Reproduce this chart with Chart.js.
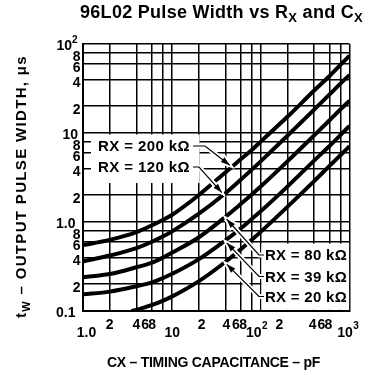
<!DOCTYPE html>
<html>
<head>
<meta charset="utf-8">
<script src="https://cdn.jsdelivr.net/npm/chart.js@4.4.0/dist/chart.umd.min.js"></script>
<style>
html, body { margin: 0; padding: 0; background: #fff; }
</style>
</head>
<body>
<canvas id="canvas" width="368" height="375"></canvas>
<script>
// values (CX in pF, tW in us)
const cx = [1, 2, 4, 6, 8, 10, 20, 40, 60, 80, 100, 200, 400, 600, 800, 1000];
const rx200 = [0.55, 0.63, 0.77, 0.92, 1.06, 1.2, 2.0, 3.6, 5.1, 6.5, 8.0, 15.2, 30, 44, 59, 74];
const rx120 = [0.36, 0.42, 0.51, 0.6, 0.69, 0.78, 1.23, 2.1, 3.0, 3.9, 4.8, 9.3, 18.3, 27.3, 36.3, 45];
const rx80 = [0.24, 0.26, 0.31, 0.35, 0.4, 0.45, 0.67, 1.14, 1.6, 2.05, 2.5, 4.8, 9.4, 14, 18.6, 23];
const rx39 = [0.154, 0.165, 0.19, 0.21, 0.235, 0.26, 0.38, 0.62, 0.85, 1.09, 1.32, 2.5, 4.9, 7.2, 9.6, 12];
const cx20 = [3.5, 4, 6, 8, 10, 20, 40, 60, 80, 100, 200, 400, 600, 800, 1000];
const rx20 = [0.1, 0.103, 0.117, 0.131, 0.145, 0.215, 0.355, 0.495, 0.635, 0.775, 1.48, 2.88, 4.3, 5.7, 7.1];

const seriesLabels = ['RX = 200 k\u03A9', 'RX = 120 k\u03A9', 'RX = 80 k\u03A9', 'RX = 39 k\u03A9', 'RX = 20 k\u03A9'];

const xGrid = [1, 2, 4, 6, 8, 10, 20, 40, 60, 80, 100, 200, 400, 600, 800, 1000];
const yGrid = [0.1, 0.2, 0.4, 0.6, 0.8, 1, 2, 4, 6, 8, 10, 20, 40, 60, 80, 100];
const xTickLabels = ['1.0', '2', '4', '6', '8', '10', '2', '4', '6', '8', '10\u00B2', '2', '4', '6', '8', '10\u00B3'];
const yTickLabels = ['0.1', '2', '4', '6', '8', '1.0', '2', '4', '6', '8', '10', '2', '4', '6', '8', '10\u00B2'];

const FONT = "'Liberation Sans', Arial, sans-serif";

function pairs(xs, ys) {
    return xs.map((v, i) => ({x: v, y: ys[i]}));
}

// draw a row of text pieces, each {t, size, dy}
function drawParts(ctx, parts, x, y, align, spacing) {
    ctx.letterSpacing = (spacing || 0) + 'px';
    let w = 0;
    parts.forEach(p => {
        ctx.font = 'bold ' + p.size + 'px ' + FONT;
        p.w = ctx.measureText(p.t).width;
        w += p.w;
    });
    let px = align == 'right' ? x - w : align == 'center' ? x - w / 2 : x;
    parts.forEach(p => {
        ctx.font = 'bold ' + p.size + 'px ' + FONT;
        ctx.fillText(p.t, px, y + (p.dy || 0));
        px += p.w;
    });
    ctx.letterSpacing = '0px';
}

function fitSpacing(ctx, parts, target) {
    ctx.letterSpacing = '0px';
    let w = 0, n = 0;
    parts.forEach(p => {
        ctx.font = 'bold ' + p.size + 'px ' + FONT;
        w += ctx.measureText(p.t).width;
        n += p.t.length;
    });
    return (target - w) / n;
}

// pixel on a drawn curve at a given CX
function curvePoint(chart, ds, c) {
    const pts = chart.getDatasetMeta(ds).data;
    const px = chart.scales.x.getPixelForValue(c);
    for (let i = 1; i < pts.length; i++) {
        if (pts[i].x >= px) {
            const a = pts[i - 1], b = pts[i];
            const t = (px - a.x) / (b.x - a.x);
            return {x: px, y: a.y + t * (b.y - a.y)};
        }
    }
    return {x: px, y: pts[pts.length - 1].y};
}

// leader lines from the labels to the curves
const leaders = [
    {ds: 0, c: 44.9, side: -1, from: [[193, 146], [205, 146]]},
    {ds: 1, c: 36.5, side: -1, from: [[193, 167], [199, 167]]},
    {ds: 2, c: 41.5, side: 1, from: [[264, 255], [259, 255]]},
    {ds: 3, c: 41.5, side: 1, from: [[264, 276.5], [259, 276.5]]},
    {ds: 4, c: 41.5, side: 1, from: [[264, 296.5], [259, 296.5]]}
];
const labelPos = [[98, 146], [98, 167], [265, 255], [265, 276.5], [265, 296.5]];

const decor = {
    id: 'decor',
    beforeDatasetsDraw(chart) {
        const ctx = chart.ctx, x = chart.scales.x, y = chart.scales.y;
        ctx.save();
        ctx.fillStyle = '#fff';
        // label areas blank out the grid
        let x0 = x.getPixelForValue(1.23), x1 = x.getPixelForValue(20.5);
        let y0 = y.getPixelForValue(9.62), y1 = y.getPixelForValue(2.74);
        ctx.fillRect(x0, y0, x1 - x0, y1 - y0);
        x0 = x.getPixelForValue(102); x1 = x.getPixelForValue(990);
        y0 = y.getPixelForValue(0.573); y1 = y.getPixelForValue(0.1031);
        ctx.fillRect(x0, y0, x1 - x0, y1 - y0);
        ctx.restore();
    },
    afterDatasetsDraw(chart) {
        const ctx = chart.ctx;
        ctx.save();
        leaders.forEach(l => {
            const p = curvePoint(chart, l.ds, l.c);
            const tip = {x: p.x, y: p.y + l.side * 3.5};
            const pts = l.from.concat([[tip.x, tip.y]]);
            const prev = pts[pts.length - 2];
            const ang = Math.atan2(tip.y - prev[1], tip.x - prev[0]);
            const hl = 9, hw = 3;
            const bx = tip.x - hl * Math.cos(ang), by = tip.y - hl * Math.sin(ang);
            const head = [
                [tip.x, tip.y],
                [bx + hw * Math.sin(ang), by - hw * Math.cos(ang)],
                [bx - hw * Math.sin(ang), by + hw * Math.cos(ang)]
            ];
            // white halo
            ctx.strokeStyle = '#fff';
            ctx.lineWidth = 5;
            ctx.beginPath();
            pts.forEach((q, i) => i ? ctx.lineTo(q[0], q[1]) : ctx.moveTo(q[0], q[1]));
            ctx.stroke();
            ctx.lineWidth = 4;
            ctx.beginPath();
            head.forEach((q, i) => i ? ctx.lineTo(q[0], q[1]) : ctx.moveTo(q[0], q[1]));
            ctx.closePath();
            ctx.stroke();
            // line and head
            ctx.strokeStyle = '#000';
            ctx.fillStyle = '#000';
            ctx.lineWidth = 1.2;
            ctx.beginPath();
            pts.forEach((q, i) => i ? ctx.lineTo(q[0], q[1]) : ctx.moveTo(q[0], q[1]));
            ctx.stroke();
            ctx.beginPath();
            head.forEach((q, i) => i ? ctx.lineTo(q[0], q[1]) : ctx.moveTo(q[0], q[1]));
            ctx.closePath();
            ctx.fill();
        });
        ctx.restore();
    },
    afterDraw(chart) {
        const ctx = chart.ctx, x = chart.scales.x, y = chart.scales.y;
        ctx.save();
        ctx.fillStyle = '#000';
        ctx.textBaseline = 'alphabetic';

        // title
        const title = [
            {t: '96L02 Pulse Width vs R', size: 18},
            {t: 'X', size: 13, dy: 4},
            {t: ' and C', size: 18},
            {t: 'X', size: 13, dy: 4}
        ];
        drawParts(ctx, title, 80, 18, 'left', fitSpacing(ctx, title, 283));

        // x tick labels
        const xdx = [3.5, 0, 0, -7, -11, 0.5, 3, 1, -5, -9, -7, -8, -1.5, -8.5, -12.5, -4.5];
        xTickLabels.forEach((lab, i) => {
            const px = x.getPixelForValue(xGrid[i]) + xdx[i];
            const sup = lab.endsWith('\u00B2') ? '2' : lab.endsWith('\u00B3') ? '3' : null;
            if (sup) {
                drawParts(ctx, [{t: '10', size: 14}], px, 336.5, 'center');
                ctx.font = 'bold 14px ' + FONT;
                const w = ctx.measureText('10').width;
                drawParts(ctx, [{t: sup, size: 10}], px + w / 2 + 0.5, 328.5, 'left');
            } else if (lab == '1.0' || lab == '10') {
                drawParts(ctx, [{t: lab, size: 14}], px, 336.5, 'center');
            } else {
                drawParts(ctx, [{t: lab, size: 14}], px, 329, 'center');
            }
        });

        // y tick labels
        yTickLabels.forEach((lab, i) => {
            const py = y.getPixelForValue(yGrid[i]);
            if (lab.endsWith('\u00B2')) {
                drawParts(ctx, [{t: '10', size: 14}], 72, py + 6, 'right');
                drawParts(ctx, [{t: '2', size: 10}], 72, py - 1, 'left');
            } else if (lab.length > 1) {
                drawParts(ctx, [{t: lab, size: 14}], lab == '10' ? 78 : 75.5, py + 6, 'right');
            } else {
                drawParts(ctx, [{t: lab, size: 14}], 80.5, py + 8, 'right');
            }
        });

        // curve labels
        ctx.textBaseline = 'middle';
        seriesLabels.forEach((lab, i) => {
            const parts = [{t: lab, size: 15}];
            const target = i < 2 ? 92 : 82;
            drawParts(ctx, parts, labelPos[i][0], labelPos[i][1] + 1, 'left', fitSpacing(ctx, parts, target));
        });
        ctx.textBaseline = 'alphabetic';

        // x axis title
        const xt = [{t: 'CX \u2013 TIMING CAPACITANCE \u2013 pF', size: 14}];
        drawParts(ctx, xt, 213.5, 367, 'center', fitSpacing(ctx, xt, 213));

        // y axis title
        const yt = [
            {t: 't', size: 15},
            {t: 'W', size: 11, dy: 4},
            {t: ' \u2013 OUTPUT PULSE WIDTH, \u03BCs', size: 15}
        ];
        ctx.translate(26, 186.5);
        ctx.rotate(-Math.PI / 2);
        drawParts(ctx, yt, 0, 0, 'center', fitSpacing(ctx, yt, 263));
        ctx.restore();
    }
};

const ctx = document.getElementById('canvas').getContext('2d');
const lineStyle = {showLine: true, borderColor: '#000', borderWidth: 4, pointRadius: 0, fill: false, tension: 0.4, cubicInterpolationMode: 'monotone'};
const myChart = new Chart(ctx, {
    type: 'scatter',
    data: {
        datasets: [
            Object.assign({label: seriesLabels[0], data: pairs(cx, rx200)}, lineStyle),
            Object.assign({label: seriesLabels[1], data: pairs(cx, rx120)}, lineStyle),
            Object.assign({label: seriesLabels[2], data: pairs(cx, rx80)}, lineStyle),
            Object.assign({label: seriesLabels[3], data: pairs(cx, rx39)}, lineStyle),
            Object.assign({label: seriesLabels[4], data: pairs(cx20, rx20)}, lineStyle)
        ]
    },
    options: {
        responsive: false,
        animation: false,
        layout: {padding: {left: 83, right: 18.5, top: 44, bottom: 64}},
        plugins: {
            legend: {display: false},
            tooltip: {enabled: false}
        },
        scales: {
            x: {
                type: 'logarithmic',
                min: 1,
                max: 1000,
                afterBuildTicks: axis => { axis.ticks = xGrid.map(v => ({value: v})); },
                ticks: {display: false},
                grid: {color: '#000', lineWidth: 1.5, drawTicks: false},
                border: {display: true, color: '#000', width: 2}
            },
            y: {
                type: 'logarithmic',
                min: 0.1,
                max: 100,
                afterBuildTicks: axis => { axis.ticks = yGrid.map(v => ({value: v})); },
                ticks: {display: false},
                grid: {color: '#000', lineWidth: 1.5, drawTicks: false},
                border: {display: true, color: '#000', width: 2}
            }
        }
    },
    plugins: [decor]
});
</script>
</body>
</html>
